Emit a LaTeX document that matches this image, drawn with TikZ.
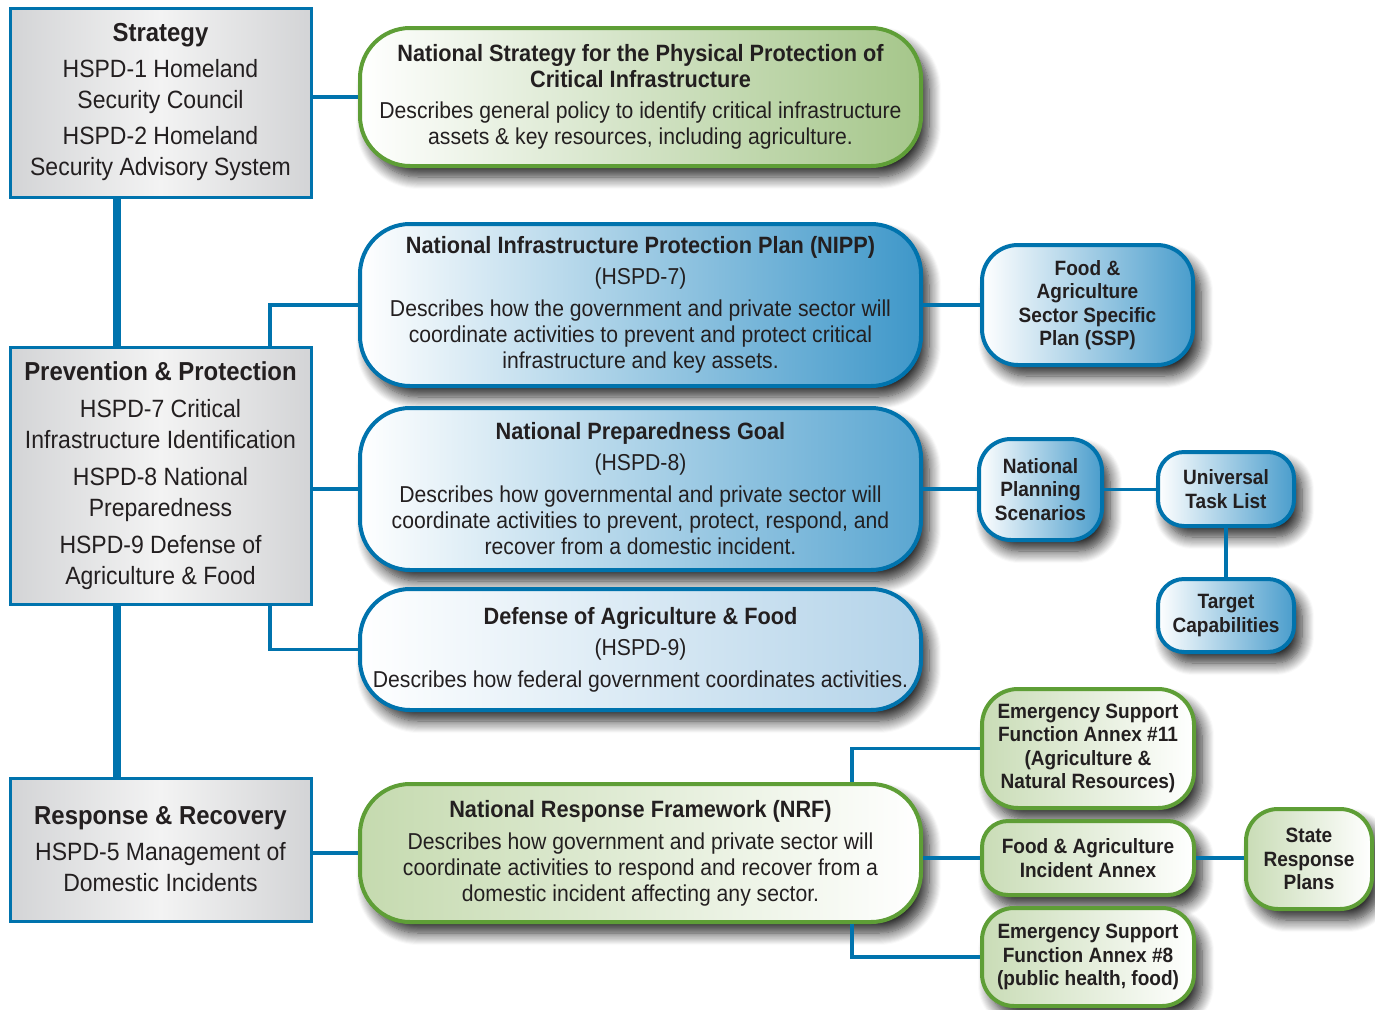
\documentclass[tikz,border=0pt]{standalone}
\usepackage{fontspec}
\setmainfont{Liberation Sans}[FakeStretch=0.92]
\usetikzlibrary{shadows.blur}
\definecolor{bl}{HTML}{0073AD}
\definecolor{gr}{HTML}{5E9E36}
\definecolor{txt}{HTML}{231F20}
\definecolor{blR}{HTML}{3E97C9}
\definecolor{blR2}{HTML}{5AA6D1}
\definecolor{blR3}{HTML}{B3D3E9}
\definecolor{blS}{HTML}{4A9DCC}
\definecolor{grR}{HTML}{A5C68A}
\definecolor{grL}{HTML}{C5DAAF}
\definecolor{grS}{HTML}{C9DCB6}
\definecolor{gyE}{HTML}{D3D4D6}
\definecolor{gyM}{HTML}{F3F3F3}
\newcommand{\ttlfont}{\bfseries\fontsize{23.6}{26}\selectfont}
\begin{document}
\begin{tikzpicture}[x=1pt,y=-1pt,
  shadowed/.style={blur shadow={shadow xshift=8pt,shadow yshift=-11pt,shadow blur radius=12pt,shadow blur steps=12,shadow opacity=85}},
  leftbox/.style={draw=bl,line width=3pt,left color=gyE,right color=gyE,middle color=gyM,
    minimum width=301pt,align=center,inner sep=0pt,text=txt,font=\fontsize{25}{31}\selectfont},
  mainbox/.style={rounded corners=50pt,line width=4pt,minimum width=561pt,align=center,
    inner sep=0pt,text=txt,font=\fontsize{23}{26}\selectfont,shadowed},
  bluemain/.style={mainbox,draw=bl,left color=white,right color=#1},
  greenmain/.style={mainbox,draw=gr,left color=#1},
  smallbox/.style={line width=4pt,align=center,inner sep=0pt,text=txt,
    font=\bfseries\fontsize{20.7}{23.5}\selectfont,shadowed},
  bluesmall/.style={smallbox,draw=bl,left color=white,right color=blS},
  greensmall/.style={smallbox,draw=gr,left color=grS,right color=white},
  conn/.style={draw=bl,line width=3.5pt},
  spine/.style={draw=bl,line width=8pt}
]
\useasboundingbox (0,0) rectangle (1375,1009);

% left boxes
\node[leftbox,minimum height=189pt] (strat) at (160.5,102.5)
  {\textbf{\fontsize{26}{31}\selectfont Strategy}\\[5pt]
   HSPD-1 Homeland\\ Security Council\\[5pt]
   HSPD-2 Homeland\\ Security Advisory System};
\node[leftbox,minimum height=257pt] (prev) at (160.5,475.5)
  {\textbf{\fontsize{26}{31}\selectfont Prevention \& Protection}\\[6pt]
   HSPD-7 Critical\\ Infrastructure Identification\\[6pt]
   HSPD-8 National\\ Preparedness\\[6pt]
   HSPD-9 Defense of\\ Agriculture \& Food};
\node[leftbox,minimum height=143pt] (resp) at (160.5,849.5)
  {\textbf{\fontsize{26}{31}\selectfont Response \& Recovery}\\[5pt]
   HSPD-5 Management of\\ Domestic Incidents};

% main boxes
\node[greenmain=white,right color=grR,minimum height=138pt] (nspp) at (640.5,97)
  {{\ttlfont National Strategy for the Physical Protection of}\\
   {\ttlfont Critical Infrastructure}\\[5pt]
   Describes general policy to identify critical infrastructure\\
   assets \& key resources, including agriculture.};
\node[bluemain=blR,minimum height=162pt] (nipp) at (640.5,305)
  {{\ttlfont National Infrastructure Protection Plan (NIPP)}\\[5pt]
   (HSPD-7)\\[6pt]
   Describes how the government and private sector will\\
   coordinate activities to prevent and protect critical\\
   infrastructure and key assets.};
\node[bluemain=blR2,minimum height=162pt] (npg) at (640.5,489)
  {{\ttlfont National Preparedness Goal}\\[5pt]
   (HSPD-8)\\[6pt]
   Describes how governmental and private sector will\\
   coordinate activities to prevent, protect, respond, and\\
   recover from a domestic incident.};
\node[bluemain=blR3,minimum height=121pt] (daf) at (640.5,649.5)
  {{\ttlfont Defense of Agriculture \& Food}\\[5pt]
   (HSPD-9)\\[6pt]
   Describes how federal government coordinates activities.};
\node[greenmain=grL,right color=white,minimum height=138pt] (nrf) at (640.5,853)
  {{\ttlfont National Response Framework (NRF)}\\[6pt]
   Describes how government and private sector will\\
   coordinate activities to respond and recover from a\\
   domestic incident affecting any sector.};

% small boxes
\node[bluesmall,rounded corners=36pt,minimum width=211pt,minimum height=120pt] (ssp) at (1087.5,305)
  {Food \&\\ Agriculture\\ Sector Specific\\ Plan (SSP)};
\node[bluesmall,rounded corners=32pt,minimum width=123pt,minimum height=101pt] (nps) at (1040.5,489.5)
  {National\\ Planning\\ Scenarios};
\node[bluesmall,rounded corners=26pt,minimum width=136pt,minimum height=74pt] (utl) at (1226,489)
  {Universal\\ Task List};
\node[bluesmall,rounded corners=26pt,minimum width=136pt,minimum height=73pt] (tc) at (1226,615.5)
  {Target\\ Capabilities};
\node[greensmall,rounded corners=36pt,minimum width=212pt,minimum height=119pt] (esf11) at (1088,748.5)
  {Emergency Support\\ Function Annex \#11\\ (Agriculture \&\\ Natural Resources)};
\node[greensmall,rounded corners=26pt,minimum width=212pt,minimum height=74pt] (faia) at (1088,858)
  {Food \& Agriculture\\ Incident Annex};
\node[greensmall,rounded corners=32pt,minimum width=212pt,minimum height=98pt] (esf8) at (1088,957)
  {Emergency Support\\ Function Annex \#8\\ (public health, food)};
\node[greensmall,rounded corners=32pt,minimum width=126pt,minimum height=100pt] (srp) at (1309,859)
  {State\\ Response\\ Plans};

% connector helper coordinates
\coordinate (sp) at (117,0);
\coordinate (jl) at (270,0);
\coordinate (jr) at (852,0);

% connectors
\draw[spine] (strat.south -| sp) -- (prev.north -| sp);
\draw[spine] (prev.south -| sp) -- (resp.north -| sp);
\draw[conn] (strat.east |- nspp.west) -- (nspp.west);
\draw[conn] (prev.north -| jl) |- (nipp.west);
\draw[conn] (prev.east |- npg.west) -- (npg.west);
\draw[conn] (prev.south -| jl) |- (daf.west);
\draw[conn] (resp.east |- nrf.west) -- (nrf.west);
\draw[conn] (nipp.east) -- (ssp.west |- nipp.east);
\draw[conn] (npg.east) -- (nps.west |- npg.east);
\draw[conn] (nps.east) -- (utl.west |- nps.east);
\draw[conn] (utl.south) -- (tc.north);
\draw[conn] (nrf.north -| jr) |- (esf11.west);
\draw[conn] (nrf.east |- faia.west) -- (faia.west);
\draw[conn] (nrf.south -| jr) |- (esf8.west);
\draw[conn] (faia.east) -- (srp.west |- faia.east);
\end{tikzpicture}
\end{document}
